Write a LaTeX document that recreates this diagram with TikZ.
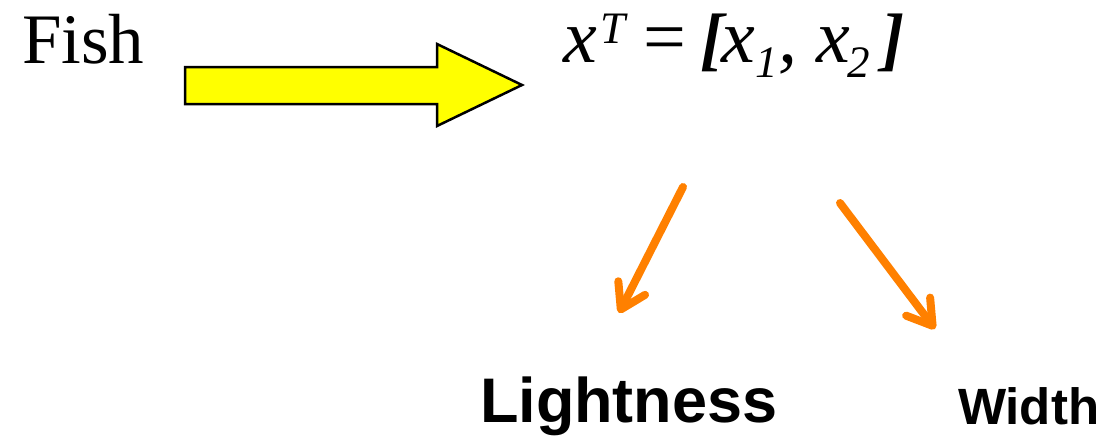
\documentclass[tikz,border=0pt]{standalone}
\usepackage{fontspec}
\setmainfont{Liberation Serif}
\setsansfont{Liberation Sans}
\usetikzlibrary{arrows.meta}
\definecolor{arroworange}{HTML}{FF8000}
\definecolor{arrowyellow}{HTML}{FFFF00}
\newcommand{\putat}[2]{\rlap{\kern#1pt #2}}
\newcommand{\smallsc}{\fontsize{45}{50}\selectfont}
\tikzset{
  px/.style={x=1pt,y=-1pt},
  lbl/.style={inner sep=0pt,outer sep=0pt,anchor=base west},
  feat/.style={draw=arroworange,line width=8pt,line cap=round,
    -{Straight Barb[length=24pt,width=30pt,line cap=round,line join=round]}},
  blockarrow/.style={fill=arrowyellow,draw=black,line width=2.5pt,line join=miter}
}
\begin{document}
\begin{tikzpicture}[px]
\useasboundingbox (0,0) rectangle (1109,437);
\node[lbl,font=\fontsize{71}{80}\selectfont] (fish) at (22,63) {Fish};
\node[lbl,font=\fontsize{76}{80}\selectfont\itshape] (vec) at (563,62)
  {\putat{0}{x}%
   \putat{37}{\raisebox{19pt}{\smallsc T}}%
   \putat{80}{\upshape =}%
   \putat{137}{\fontsize{70}{80}\selectfont\bfseries [}%
   \putat{158}{x}%
   \putat{192}{\raisebox{-15pt}{\smallsc 1}}%
   \putat{215}{,}%
   \putat{254}{x}%
   \putat{284}{\raisebox{-15pt}{\smallsc 2}}%
   \putat{318}{\fontsize{70}{80}\selectfont\bfseries ]}%
   \kern335pt};
\node[lbl,font=\sffamily\bfseries\fontsize{63}{70}\selectfont] (light) at (480,422) {Lightness};
\node[lbl,font=\sffamily\bfseries\fontsize{51}{60}\selectfont] (width) at (958,424) {Width};
\draw[blockarrow] (185,67) -- (437,67) -- (437,44) -- (522,85) -- (437,126) -- (437,104) -- (185,104) -- cycle;
\coordinate (l0) at (683,187);
\coordinate (l1) at (619,313);
\coordinate (r0) at (840,203);
\coordinate (r1) at (935,329);
\draw[feat] (l0) -- (l1);
\draw[feat] (r0) -- (r1);
\end{tikzpicture}
\end{document}
